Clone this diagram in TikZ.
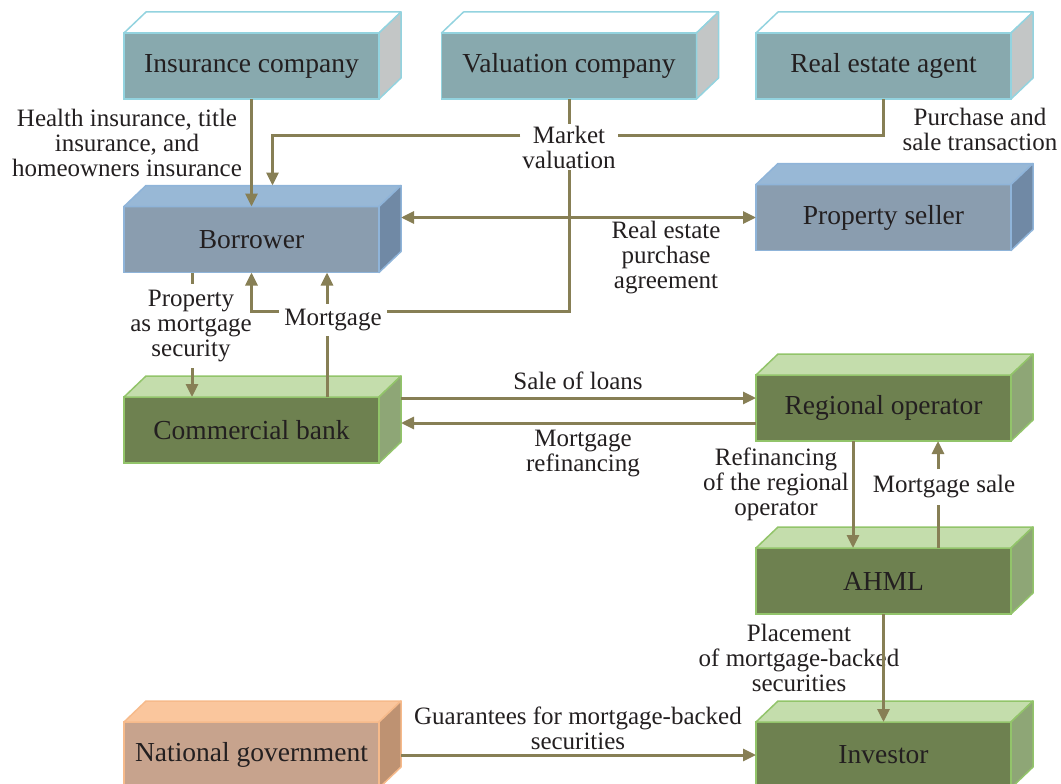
\documentclass[tikz,border=0pt]{standalone}
\usepackage{fontspec}
\setmainfont{Liberation Serif}
\usetikzlibrary{arrows.meta}
\definecolor{txt}{HTML}{231F20}
\definecolor{conncol}{HTML}{877F55}
\definecolor{tealF}{HTML}{88A9AE}
\definecolor{tealT}{HTML}{FFFFFF}
\definecolor{tealS}{HTML}{C3C6C6}
\definecolor{tealB}{HTML}{93D3DF}
\definecolor{blueF}{HTML}{8A9DAF}
\definecolor{blueT}{HTML}{98B8D6}
\definecolor{blueS}{HTML}{7089A5}
\definecolor{blueB}{HTML}{8FB4D9}
\definecolor{greenF}{HTML}{6E8150}
\definecolor{greenT}{HTML}{C4DDAC}
\definecolor{greenS}{HTML}{8EA676}
\definecolor{greenB}{HTML}{92C46A}
\definecolor{orangeF}{HTML}{C7A38D}
\definecolor{orangeT}{HTML}{FAC69D}
\definecolor{orangeS}{HTML}{BE9272}
\definecolor{orangeB}{HTML}{F6BA8B}
\tikzset{
  frontbox/.style={rectangle, minimum width=255pt, minimum height=66pt, inner sep=0pt, outer sep=0pt,
    fill=#1F, draw=#1B, line width=1.5pt, text=txt, font=\fontsize{27.5}{29}\selectfont},
  conn/.style={draw=conncol, line width=3pt},
  arr/.style={-{Triangle[length=13pt,width=12pt]}},
  darr/.style={{Triangle[length=13pt,width=12pt]}-{Triangle[length=13pt,width=12pt]}},
  lbl/.style={text=txt, align=center, font=\fontsize{25}{25}\selectfont, inner sep=1pt},
  lblw/.style={lbl, fill=white, inner sep=2pt},
}
\newcommand\cuboid[4]{%
  \node[frontbox=#4] (#1) at (#2) {\raisebox{-2pt}{#3}};
  \filldraw[fill=#4T, draw=#4B, line width=1.5pt, line join=round]
    (#1.north west) -- ++(22,-21) -- ++(255,0) -- (#1.north east) -- cycle;
  \filldraw[fill=#4S, draw=#4B, line width=1.5pt, line join=round]
    (#1.north east) -- ++(22,-21) -- ++(0,66) -- (#1.south east) -- cycle;
  \coordinate (#1-r) at ([xshift=22pt]#1.east);
}
\begin{document}
\begin{tikzpicture}[x=1pt,y=-1pt]
\useasboundingbox (0,0) rectangle (1061,784);
% boxes
\cuboid{ins}{251.5,66}{Insurance company}{teal}
\cuboid{val}{569,66}{Valuation company}{teal}
\cuboid{rea}{883.5,66}{Real estate agent}{teal}
\cuboid{bor}{251.5,239.5}{Borrower}{blue}
\cuboid{ps}{883.5,217.5}{Property seller}{blue}
\cuboid{cb}{251.5,430}{Commercial bank}{green}
\cuboid{ro}{883.5,408}{Regional operator}{green}
\cuboid{ahml}{883.5,581}{AHML}{green}
\cuboid{ng}{251.5,755}{National government}{orange}
\cuboid{inv}{883.5,755}{Investor}{green}
% labels
\node[lbl] (l1) at (127,143) {Health insurance, title\\insurance, and\\homeowners insurance};
\node[lblw] (l2) at (569,147) {Market\\valuation};
\node[lbl] (l3) at (980,129) {Purchase and\\sale transaction};
\node[lbl] (l4) at (666,258) {Real estate\\purchase\\agreement};
\node[lbl, inner sep=6pt] (l5) at (191,326) {Property\\as mortgage\\security};
\node[lbl, inner sep=5pt] (l6) at (333,320) {Mortgage};
\node[lbl] (l7) at (578,381) {Sale of loans};
\node[lbl] (l8) at (583,454) {Mortgage\\refinancing};
\node[lbl] (l9) at (776,484) {Refinancing\\of the regional\\operator};
\node[lbl, inner sep=6pt] (l10) at (944,487) {Mortgage sale};
\node[lbl] (l11) at (799,658) {Placement\\of mortgage-backed\\securities};
\node[lbl] (l12) at (578,728) {Guarantees for mortgage-backed\\securities};
% connectors
\draw[conn,arr] (ins.south) -- (bor.north);
\draw[conn] (rea.south) -- ++(0,36) -- (l2.east |- 0,135);
\draw[conn,arr] (l2.west |- 0,135) -| ([shift={(21,-21)}]bor.north);
\draw[conn] (val.south) -- (l2.north);
\draw[conn] (l2.south) |- (l6.east |- 0,311);
\draw[conn,arr] (l6.west |- 0,311) -| (bor.south);
\draw[conn,darr] (bor-r |- ps.west) -- (ps.west);
\draw[conn] ([xshift=-59.5pt]bor.south) -- ([xshift=-59.5pt]bor.south |- l5.north);
\draw[conn,arr] ([xshift=-59.5pt]bor.south |- l5.south) -- ([xshift=-59.5pt]cb.north);
\draw[conn,arr] ([xshift=75.5pt]bor.south |- l6.north) -- ([xshift=75.5pt]bor.south);
\draw[conn] ([xshift=75.5pt]cb.north) -- ([xshift=75.5pt]cb.north |- l6.south);
\coordinate (s1) at ([yshift=10pt]ro.west);
\coordinate (s2) at ([yshift=-15pt]ro.west);
\draw[conn,arr] (cb-r |- s1) -- (s1);
\draw[conn,arr] (s2) -- (cb-r |- s2);
\draw[conn,arr] ([xshift=-30.5pt]ro.south) -- ([xshift=-30.5pt]ahml.north);
\draw[conn,arr] ([xshift=54.5pt]ahml.north |- l10.north) -- ([xshift=54.5pt]ro.south);
\draw[conn] ([xshift=54.5pt]ahml.north) -- ([xshift=54.5pt]ahml.north |- l10.south);
\draw[conn,arr] (ahml.south) -- (inv.north);
\draw[conn,arr] (ng-r |- inv.west) -- (inv.west);
\end{tikzpicture}
\end{document}
